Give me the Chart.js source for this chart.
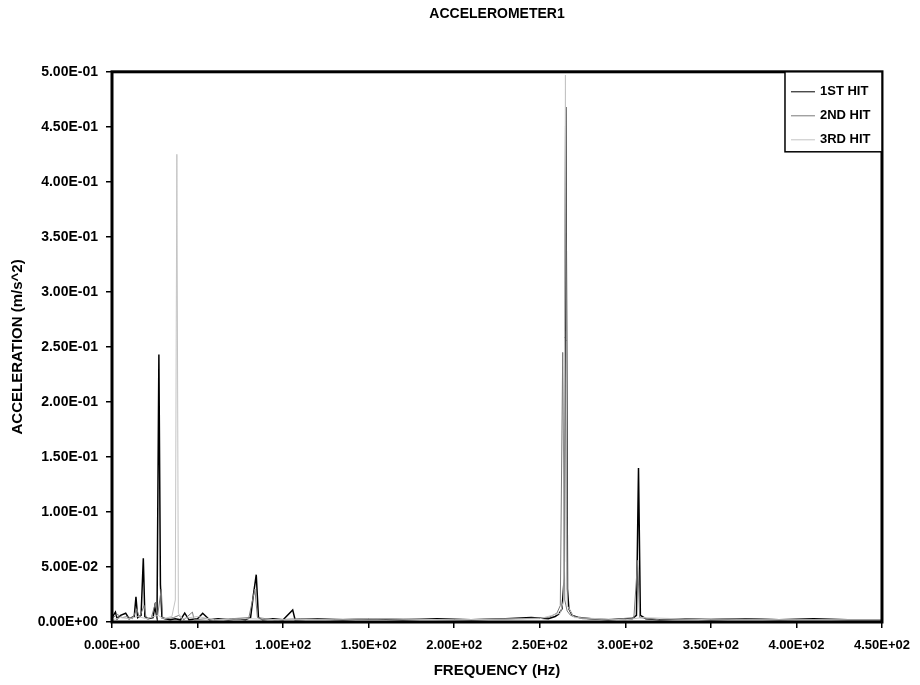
<!DOCTYPE html>
<html>
<head>
<meta charset="utf-8">
<script src="https://cdn.jsdelivr.net/npm/chart.js@4.4.1/dist/chart.umd.min.js"></script>
<style>
  html, body { margin: 0; padding: 0; background: #fff; }
  #wrap { position: relative; width: 920px; height: 685px; }
</style>
</head>
<body>
<div id="wrap"><canvas id="chart"></canvas></div>
<script>
const seriesLabels = ["1ST HIT", "2ND HIT", "3RD HIT"];
const seriesColors = ["#000000", "#7a7a7a", "#c4c4c4"];

// 1ST HIT
const hit1Freq = [0, 2, 3, 5, 8, 10, 13, 14, 15, 17, 18.3, 19.2, 21, 24, 25, 26.3, 27.4, 28.3, 29.2, 31, 34, 37, 40, 42.5, 45, 50, 53, 57, 62, 68, 74, 78, 81, 82.5, 84.3, 85.6, 88, 94, 100, 105.6, 107, 120, 135, 150, 170, 190, 210, 230, 245, 255, 259, 261, 263, 264.3, 265.2, 266.2, 267, 269, 273, 280, 290, 300, 304, 306.5, 307.7, 308.8, 312, 320, 335, 350, 370, 390, 410, 430, 450];
const hit1Acc = [0.004, 0.009, 0.003, 0.006, 0.008, 0.003, 0.005, 0.023, 0.004, 0.006, 0.058, 0.005, 0.003, 0.004, 0.014, 0.004, 0.243, 0.034, 0.004, 0.003, 0.002, 0.003, 0.002, 0.008, 0.002, 0.003, 0.008, 0.002, 0.003, 0.002, 0.003, 0.002, 0.004, 0.023, 0.043, 0.004, 0.002, 0.003, 0.002, 0.011, 0.002, 0.003, 0.002, 0.003, 0.002, 0.003, 0.002, 0.003, 0.004, 0.003, 0.005, 0.007, 0.012, 0.040, 0.468, 0.030, 0.012, 0.006, 0.004, 0.003, 0.002, 0.003, 0.003, 0.006, 0.140, 0.006, 0.003, 0.002, 0.003, 0.002, 0.003, 0.002, 0.003, 0.002, 0.002];

// 2ND HIT
const hit2Freq = [0, 3, 6, 9, 12, 14.5, 16, 18.8, 20, 23, 25.5, 26.5, 28.8, 29.6, 32, 36, 39, 42, 47, 48, 55, 60, 70, 80, 83.5, 85, 95, 110, 130, 160, 200, 240, 255, 260, 262, 263.4, 264.6, 266, 268, 275, 290, 305, 307.2, 308.4, 320, 360, 400, 450];
const hit2Acc = [0.003, 0.007, 0.004, 0.005, 0.003, 0.012, 0.004, 0.015, 0.003, 0.004, 0.018, 0.004, 0.030, 0.004, 0.003, 0.004, 0.006, 0.002, 0.009, 0.002, 0.003, 0.002, 0.003, 0.004, 0.030, 0.004, 0.002, 0.003, 0.002, 0.003, 0.002, 0.003, 0.004, 0.008, 0.015, 0.245, 0.020, 0.010, 0.006, 0.003, 0.002, 0.004, 0.056, 0.004, 0.002, 0.003, 0.002, 0.002];

// 3RD HIT
const hit3Freq = [0, 5, 10, 15, 20, 27, 30, 35, 37, 37.9, 38.8, 41, 50, 60, 80, 100, 150, 200, 250, 262, 264, 265, 266, 270, 300, 310, 350, 450];
const hit3Acc = [0.002, 0.004, 0.003, 0.005, 0.003, 0.006, 0.003, 0.005, 0.020, 0.425, 0.008, 0.003, 0.005, 0.002, 0.003, 0.002, 0.003, 0.002, 0.003, 0.008, 0.020, 0.497, 0.015, 0.004, 0.002, 0.004, 0.002, 0.002];

const freqSets = [hit1Freq, hit2Freq, hit3Freq];
const accSets = [hit1Acc, hit2Acc, hit3Acc];

const FONT = "'Liberation Sans', Arial, sans-serif";

function sci(v) {
  const parts = Number(v).toExponential(2).split("e");
  const exp = parseInt(parts[1], 10);
  const sign = exp < 0 ? "-" : "+";
  return parts[0] + "E" + sign + String(Math.abs(exp)).padStart(2, "0");
}

// frame around plot area + legend box inside top-right corner
const framePlugin = {
  id: "frame",
  afterDatasetsDraw(chart) {
    const { ctx, chartArea } = chart;
    const { left, right, top, bottom } = chartArea;
    ctx.save();
    ctx.strokeStyle = "#000";
    ctx.lineWidth = 3;
    ctx.strokeRect(left, top, right - left, bottom - top);

    // legend
    const boxW = 97, boxH = 80;
    const bx = right - boxW, by = top;
    ctx.fillStyle = "#fff";
    ctx.fillRect(bx, by, boxW, boxH);
    ctx.lineWidth = 1.5;
    ctx.strokeRect(bx, by, boxW, boxH);
    ctx.font = "bold 13px " + FONT;
    ctx.textBaseline = "middle";
    chart.data.datasets.forEach((ds, i) => {
      const y = by + 20 + i * 24;
      ctx.strokeStyle = ds.borderColor;
      ctx.lineWidth = 1;
      ctx.beginPath();
      ctx.moveTo(bx + 6, y);
      ctx.lineTo(bx + 30, y);
      ctx.stroke();
      ctx.fillStyle = "#000";
      ctx.fillText(ds.label, bx + 35, y);
    });
    ctx.restore();
  }
};

new Chart(document.getElementById("chart"), {
  type: "line",
  data: {
    datasets: seriesLabels.map((label, i) => ({
      label: label,
      data: freqSets[i].map((f, k) => ({ x: f, y: accSets[i][k] })),
      borderColor: seriesColors[i],
      backgroundColor: seriesColors[i],
      borderWidth: i === 0 ? 1.5 : 1,
      pointRadius: 0,
      tension: 0,
      order: 3 - i
    }))
  },
  options: {
    responsive: true,
    maintainAspectRatio: false,
    animation: false,
    layout: { padding: { left: 0, right: 36, top: 0, bottom: 0 } },
    plugins: {
      legend: { display: false },
      tooltip: { enabled: false },
      title: {
        display: true,
        fullSize: false,
        text: "ACCELEROMETER1",
        color: "#000",
        font: { family: FONT, size: 14, weight: "bold" },
        padding: { top: 6, bottom: 49 }
      }
    },
    scales: {
      x: {
        type: "linear",
        min: 0,
        max: 450,
        afterFit(scale) { scale.height = 63; },
        border: { display: false },
        grid: { drawOnChartArea: false, drawTicks: true, tickLength: 6, color: "#000", lineWidth: 1.5 },
        ticks: {
          stepSize: 50,
          color: "#000",
          padding: 10,
          maxRotation: 0,
          font: { family: FONT, size: 13, weight: "bold" },
          callback: (v) => sci(v)
        },
        title: {
          display: true,
          text: "FREQUENCY (Hz)",
          color: "#000",
          font: { family: FONT, size: 15, weight: "bold" },
          padding: { top: 0, bottom: 5 }
        }
      },
      y: {
        min: 0,
        max: 0.5,
        afterFit(scale) { scale.width = 112; },
        border: { display: false },
        grid: { drawOnChartArea: false, drawTicks: true, tickLength: 6, color: "#000", lineWidth: 1.5 },
        ticks: {
          stepSize: 0.05,
          color: "#000",
          padding: 8,
          font: { family: FONT, size: 14, weight: "bold" },
          callback: (v) => sci(v)
        },
        title: {
          display: true,
          text: "ACCELERATION (m/s^2)",
          color: "#000",
          font: { family: FONT, size: 15, weight: "bold" },
          padding: { top: 9, bottom: 0 }
        }
      }
    }
  },
  plugins: [framePlugin]
});
</script>
</body>
</html>
